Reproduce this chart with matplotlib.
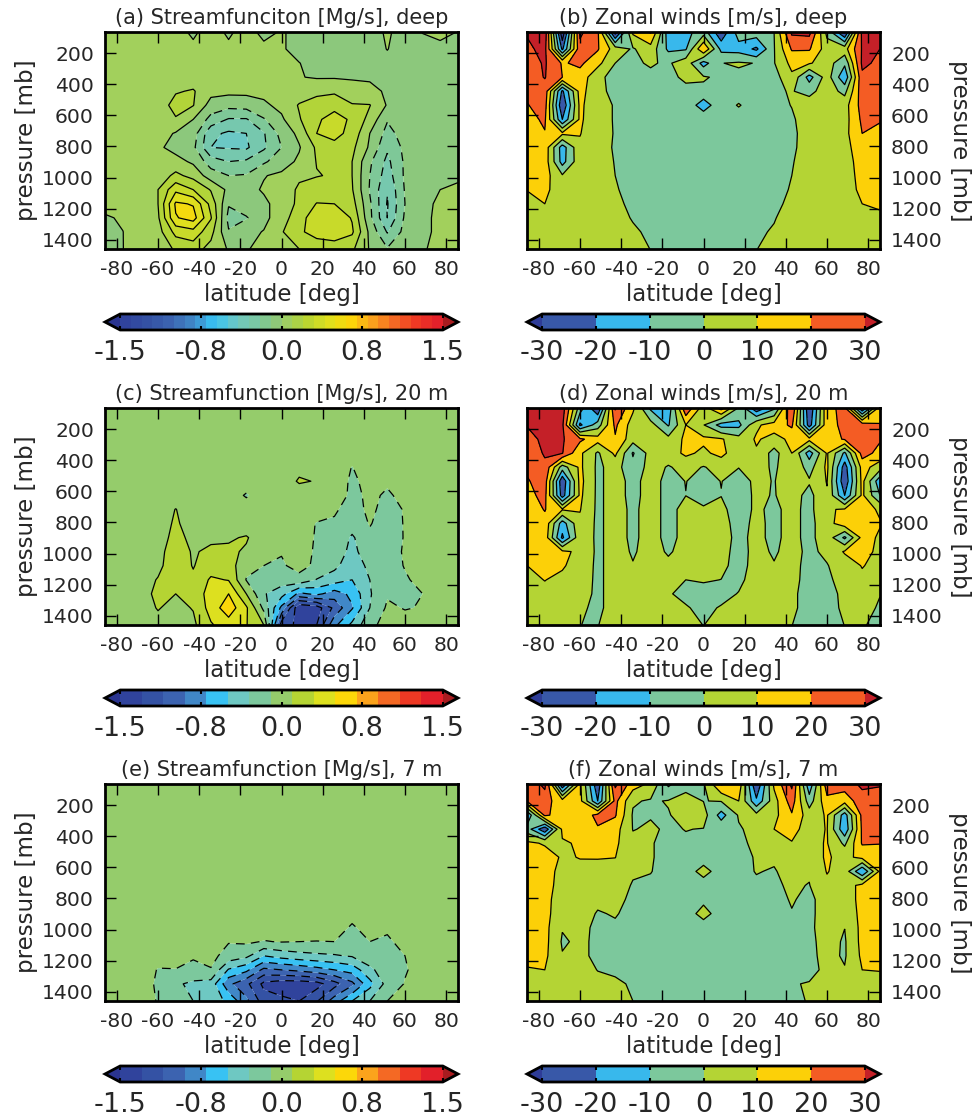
import numpy as np
import matplotlib
matplotlib.use('Agg')
import matplotlib.pyplot as plt
from matplotlib.cm import ScalarMappable
from matplotlib.colors import LinearSegmentedColormap, ListedColormap, BoundaryNorm, Normalize

plt.rcParams['axes.unicode_minus'] = False
plt.rcParams['text.color'] = '#262626'
plt.rcParams['axes.labelcolor'] = '#262626'
plt.rcParams['xtick.labelcolor'] = '#262626'
plt.rcParams['ytick.labelcolor'] = '#262626'
plt.rcParams['contour.negative_linestyle'] = (0, (7, 5))

lat = [-85.7, -77.1, -68.6, -60, -51.4, -42.9, -34.3, -25.7, -17.1, -8.6, 0,
       8.6, 17.1, 25.7, 34.3, 42.9, 51.4, 60, 68.6, 77.1, 85.7]
pres = [65, 174, 265, 355, 445, 535, 626, 716, 806, 897, 987, 1077, 1168, 1258, 1348, 1458]

psi_deep = [
    [.04, .04, .04, .04, .04, -.02, .05, -.02, .05, -.035, .01, -.03, -.03, -.03, -.03, -.03, .01, -.03, .002, .02, -.002],
    [.05, .05, .05, .05, .05, .025, .05, .025, .05, .03, .01, -.03, -.03, -.03, -.03, -.03, .002, -.03, -.02, -.02, -.02],
    [.05, .05, .05, .05, .05, .05, .05, .05, .05, .05, .03, .002, -.03, -.03, -.03, -.03, -.02, -.02, -.02, -.02, -.02],
    [.05, .05, .05, .05, .06, .06, .05, .05, .05, .04, .03, .005, -.01, -.01, -.02, -.01, -.03, -.02, -.02, -.02, -.02],
    [.05, .05, .05, .05, .11, .13, .04, .03, .03, .03, .04, .05, .09, .1, .08, .02, -.01, -.02, -.02, -.02, -.02],
    [.05, .05, .05, .06, .16, .125, -.05, -.08, -.07, -.02, .03, .13, .17, .2, .125, .125, -.01, -.03, -.02, -.02, -.02],
    [.05, .05, .05, .05, .11, .0, -.16, -.25, -.25, -.13, -.02, .11, .22, .29, .22, .08, -.11, -.05, -.03, -.02, -.02],
    [.05, .05, .05, .05, -.01, -.06, -.33, -.38, -.36, -.25, -.08, .03, .24, .28, .2, .0, -.16, -.07, -.03, -.02, -.02],
    [.04, .04, .04, .02, -.04, -.09, -.36, -.37, -.38, -.26, -.12, -.01, .14, .2, .15, -.02, -.22, -.09, -.03, -.02, -.02],
    [.04, .04, .04, .04, .04, -.02, -.18, -.24, -.22, -.14, -.05, .02, .125, .13, .12, -.1, -.27, -.1, -.03, -.02, -.02],
    [.04, .04, .04, .05, .15, .08, -.06, -.12, -.11, -.005, .02, .1, .115, .13, .12, -.12, -.3, -.1, -.03, -.02, -.01],
    [.04, .04, .04, .12, .33, .24, .11, -.03, -.03, .01, .05, .14, .17, .18, .13, -.13, -.35, -.11, -.03, .0, .01],
    [.03, .03, .05, .12, .5, .47, .2, -.11, -.05, -.02, .04, .15, .245, .24, .17, -.1, -.37, -.12, -.03, .02, .02],
    [-.01, .01, .05, .1, .47, .53, .25, -.16, -.13, -.03, .06, .2, .3, .33, .23, -.09, -.36, -.1, -.02, .02, .03],
    [-.03, -.001, .04, .07, .28, .32, .16, -.11, -.03, .005, .11, .21, .31, .34, .26, -.03, -.25, -.08, -.02, .02, .03],
    [-.03, -.001, .03, .03, .14, .17, .08, -.01, -.005, .02, .07, .12, .13, .15, .14, -.01, -.11, -.03, -.01, .03, .03],
]

wind_deep = [
    [31, 36, -38, 32, 22, -35, 12, 21, -15, -13, -5, -28, -5, -4, 0, 32, 33, -3, -32, 33, 33],
    [28, 33, -22, 27, 21, 5, -1, 6, -12, -11, 20, -13, -14, -22, -.5, 21, 21, 5, 6, 31, 30],
    [26, 31, 19, 22, 13, 0, -1.5, 1, -1.5, 6, -14, -.2, 1, -.3, -.5, 13, 11, 5, -8, 32, 28],
    [25, 30.5, 20, 16, 2.5, -3.5, -2, -2, -2, 1.5, 1, -2, -2, -2, -4, 8, -14, 5, -18, 28, 27],
    [22, 26, -22, 14, 2, -2, -2, -2, -2, -2, -2, -2, -2, -2, -1, .5, -3, 5, -3, 26, 25],
    [19.5, 24, -29, 12.5, 1.5, -.3, -2, -2, -2, -2, -16, -2, .3, -2, -1, .1, 5, 6, 6, 24, 24],
    [17, 21.5, -20, 12, 1.5, -.3, -2, -2, -2, -2, -2, -2, -2, -2, -2, -.4, 1.5, 5, 6, 22, 21],
    [15, 19.5, 12, 10.5, 2, -.3, -2, -2, -2, -2, -2, -2, -2, -2, -2, -.7, 1.5, 5, 7, 20, 17],
    [14, 16, -15, 8, 2, -.5, -2, -2, -2, -2, -2, -2, -2, -2, -2, -.8, 2, 5, 6, 17, 16],
    [13.5, 15.5, -14, 7, 2, -.2, -2, -2, -2, -2, -2, -2, -2, -2, -2, -.3, 2, 5, 5, 15, 16],
    [13, 14, 1, 6, 2.5, 0, -1, -2, -2, -2, -2, -2, -2, -2, -2, 0, 2.5, 4.5, 4.5, 14, 15],
    [10.2, 12, 5, 5, 2.5, .4, -1.5, -2, -2, -2, -2, -2, -2, -2, -.8, .2, 3, 4, 4, 13, 14],
    [8, 10, 5, 4.5, 3, 1, -1, -2, -2, -2, -2, -2, -2, -2, -.6, .6, 3, 3.5, 3.5, 10, 10.8],
    [6, 7, 5, 4, 3, 2, -.4, -2, -2, -2, -2, -2, -2, -2, -.2, 1.4, 3, 3, 3, 8, 9],
    [5, 5.5, 4.5, 4, 3, 2.5, .8, -1, -2, -2, -2, -2, -2, -.5, .3, 2, 3, 3, 3, 6, 7],
    [4, 4.5, 4, 3.5, 3, 2.5, 2, -.1, -1, -1.5, -1.5, -1.5, -1, -.1, 1.5, 2, 3, 3, 2, 4, 5],
]

psi_20m = [
    [0] * 21,
    [0] * 21,
    [0] * 21,
    [0, 0, 0, 0, 0, 0, 0, 0, 0, 0, 0, 0, 0, 0, -.02, 0, 0, 0, 0, 0, 0],
    [0, 0, 0, 0, 0, 0, 0, 0, 0, 0, 0, .05, 0, 0, -.105, 0, 0, 0, 0, 0, 0],
    [0, 0, 0, 0, 0, 0, 0, 0, 0, 0, 0, .12, .09, 0, -.13, -.05, -.08, 0, 0, 0, 0],
    [0, 0, 0, 0, 0, 0, 0, 0, -.12, 0, 0, 0, 0, 0, -.14, -.07, -.12, -.06, 0, 0, 0],
    [0, 0, 0, 0, .105, 0, 0, 0, 0, 0, 0, 0, 0, -.08, -.16, -.07, -.15, -.09, -.02, 0, 0],
    [0, 0, 0, 0, .13, 0, 0, 0, 0, 0, 0, 0, -.11, -.12, -.2, -.09, -.17, -.09, 0, 0, 0],
    [0, 0, 0, 0, .17, .04, .06, .08, .115, 0, 0, 0, -.12, -.13, -.33, -.13, -.18, -.09, 0, 0, 0],
    [0, 0, 0, .04, .2, .08, .14, .13, .08, -.02, -.09, -.01, -.13, -.18, -.36, -.18, -.18, -.08, -.02, 0, 0],
    [0, 0, 0, .06, .2, .09, .2, .2, -.05, -.1, -.12, -.05, -.13, -.25, -.42, -.25, -.18, -.09, -.03, 0, 0],
    [0, 0, .03, .11, .18, .13, .33, .29, -.11, -.13, -.2, -.15, -.31, -.4, -.5, -.3, -.18, -.12, -.05, 0, 0],
    [0, 0, .05, .13, .1, .15, .4, .5, .1, -.28, -.42, -.75, -.65, -.8, -.65, -.32, -.12, -.15, -.1, 0, 0],
    [0, 0, .03, .11, .05, .11, .38, .62, .33, -.15, -.75, -1.47, -1.4, -1.05, -.72, -.3, -.07, -.11, -.09, 0, 0],
    [0, 0, 0, .05, .01, .06, .28, .4, .31, .1, -1.2, -1.35, -1.3, -.75, -.45, -.15, -.03, -.03, 0, 0, 0],
]

wind_20m = [
    [33, 34, 35, -5, -30, 31, 12, -12, -17, 28, 5, 24, -1, -28, -12, 30, -30, 18, 22, -30, 15],
    [30.5, 33, 32, -22, -5, 22, 5, 4, -11, 10, .5, -14, -13, 8.5, 14, 22, -25, 17, 22, 26, 20.5],
    [27, 32, 31, 22, 14, 19, 4, 5, 3, 12, 12, 11, 4, 11, 7, 12, 13, 15, 21, 25, 21],
    [24, 31, 30.5, 12, -1.5, 12, -11, 4, 5, 12, 8, 13, 3, 9, -4, 10, -15, 11, -12, 24, 17],
    [22, 28, -5, 12, -2, 4, -7, 4, -.8, 3, -.5, 3, .2, 5, -2, 8, -4, 12, -25, 14, 5],
    [19, 25, -28, 13, -2, 4, -3, 4, -3, .2, -3, .2, -3, 1.5, -.3, 4, 1, 10.5, -28, 13, -17],
    [17, 23, -25, 12, -2, 4, -3, 4, -3, -.1, -3, -.2, -4, 1.5, -.5, 4, -3, 9, -20, 12, -10],
    [15, 20.5, 11, 10.5, -2, 4, -2, 4, -3, 3, 1, 2, -4, 1.5, -2, 3, -3, 9, 11, 13, 9],
    [14, 17, -15, 8, -2, 4, -2, 4, -3, 3, 3, 3, -3, 2, -2, 3, -3, 6, 16, 14, 10.5],
    [13, 16, -22, 7, -2, 4, -2, 4, -3, 3, 3, 3, -2, 2, -2, 3, -3, 6, -12, 13, 9],
    [12, 15, 12, 8, -2, 4, -1, 3.5, -1, 3, 3, 3, -3, 2.5, -1, 3, -2, 2, 11, 13, 8],
    [10, 14, 11, 6, -2, 4, .5, 3.5, 2, 3, 3, 2, -3, 3, .5, 3, -3, -.5, 5, 10.5, 7],
    [8, 10.2, 8, 5, -2, 4, 3, 3, 2, 0, .8, -.1, -1.5, 3, 2, 2.5, -3, -1.5, 3, 8, 6],
    [6, 8, 6, 4, -2, 4, 3, 3, .5, -1.5, -3, -2, .3, 3, 3, 1.5, -3, -1.5, 1, 5, .3],
    [5, 6, 5, 1.5, -2, 4, 3, 3, 2, .5, -1.5, .5, 2, 3, 3, 1, -2, -2, 1, 3, -1],
    [5, 5, 4, .02, -.2, 3, 3, 3, 3, 2, -.1, 2, 3, 3, 3, .1, -3, -2.5, .1, .5, -1.5],
]

psi_7m = [
    [0] * 21,
    [0] * 21,
    [0] * 21,
    [0] * 21,
    [0] * 21,
    [0] * 21,
    [0] * 21,
    [0] * 21,
    [0] * 21,
    [0, 0, 0, 0, 0, 0, 0, 0, 0, 0, 0, 0, 0, 0, -.05, 0, 0, 0, 0, 0, 0],
    [0, 0, 0, 0, 0, 0, 0, 0, 0, 0, 0, 0, 0, -.03, -.12, -.04, -.07, 0, 0, 0, 0],
    [0, 0, 0, 0, 0, 0, 0, -.09, -.07, -.11, -.09, -.1, -.105, -.1, -.13, -.1, -.13, -.04, 0, 0, 0],
    [0, 0, 0, -.03, -.04, -.08, -.05, -.17, -.25, -.5, -.42, -.37, -.34, -.32, -.28, -.16, -.15, -.1, 0, 0, 0],
    [0, 0, 0, -.11, -.105, -.15, -.11, -.52, -.65, -.95, -.9, -.85, -.78, -.7, -.62, -.35, -.17, -.115, -.03, 0, 0],
    [0, 0, -.04, -.12, -.27, -.34, -.38, -.85, -1.05, -1.35, -1.42, -1.42, -1.38, -1.18, -.95, -.57, -.22, -.09, 0, 0, 0],
    [0, 0, -.03, -.11, -.2, -.3, -.38, -.55, -.85, -1.2, -1.25, -1.3, -1.12, -.8, -.5, -.3, -.1, -.01, 0, 0, 0],
]

wind_7m = [
    [22, 33, -30, 12, -28, 32, 15, 8, -12, -3, -1, 21, 17, -30, 12, 32, -18, 26, 25, 32, 31],
    [21, 24, 14, 13, -20, 23, 1, -1, .5, 3, -.2, .5, 10, -18, 6, 25, -5, 17, 14, 26, 25],
    [-20, 22, 15, 13, 23, 21, -1, -.5, -.5, 3, 4, -14, 1, 3, 7, 19, 5, 11, -15, 23, 24],
    [-5, -28, 12, 14, 19, 14, -.3, 1, -1, .2, -.3, -3, -1, 3, 10, 13, 6, 10.5, -18, 22, 23],
    [12, 9, 9, 11, 12, 12, 2, .5, -2, -1, -1.5, -1.5, -1.5, 1.5, 5, 9.5, 8, 10.5, -2, 21, 20.5],
    [14, 14, 9, 10.3, 10.5, 10.2, 2, .5, -2, -2, -2, -2, -2, .5, 1, 4, 6, 11, 7, 13, 13],
    [14, 14, 7, 8, 7, 6, .8, .2, -2, -2, 1.5, -2, -2, .3, -.5, 2.5, 1, 10.5, 6, -20, 12],
    [14, 14, 6, 5, 4, 3, -.5, -1, -2, -2, -2, -2, -2, -1, -1, 1, -.3, 8, 5, 13, 14],
    [14, 13, 5, 4, 1.5, 2, -1.5, -2, -2, -2, -1, -2, -2, -2, -2, .5, -1.5, 3, 5, 13, 14],
    [14, 13, 4, 3, -.5, .5, -2, -2, -2, -2, 1.5, -2, -2, -2, -2, -.3, -1.5, 3, 3, 13, 14],
    [14, 13, .5, 1.3, -1, -1, -2, -2, -2, -2, -2, -2, -2, -2, -2, -2, -1.5, 3.5, .1, 13, 14],
    [14, 13, -1, 1.5, -1.5, -2, -2, -2, -2, -2, -2, -2, -2, -2, -2, -2, -2, 3.2, -1, 13, 14],
    [12, 12, .5, 1.5, -1.5, -2, -2, -2, -2, -2, -2, -2, -2, -2, -2, -2, -2, 2.5, -1, 12, 13],
    [9.5, 10, 4, 3, -.2, -1.5, -2, -2, -2, -2, -2, -2, -2, -2, -2, -2, -2.5, 2, .5, 10, 10.5],
    [6, 6, 5, 4, 2, 1.5, -1, -2, -2, -2, -2, -2, -2, -2, -2, -.5, .5, 3, 3, 6, 6],
    [5, 5, 5, 4, 3, 2, 0, -1, -2, -2, -2, -2, -2, -2, -1, -2, .6, 3, 4, 5, 5],
]

psi_stops = [-1.5, -1.4, -1.2, -1.0, -0.8, -0.6, -0.4, -0.2, -0.05, 0, 0.05, 0.2, 0.4, 0.6, 0.8, 1.0, 1.2, 1.4, 1.5]
psi_colors = ['#2c3a94', '#30449c', '#3452a4', '#3c64b0', '#4088c8', '#38c4f4', '#70c8c0', '#7cc89c',
              '#8ec878', '#94cc6c', '#a0d060', '#b4d434', '#dce020', '#fcd808', '#fba51c', '#f46a24',
              '#ee3a24', '#e4202a', '#c02026']
wind_colors = ['#3858a8', '#38b8ec', '#7cc89c', '#b4d434', '#fcd008', '#f45c24']

psi_cmap = LinearSegmentedColormap.from_list(
    'psi', [((s + 1.5) / 3.0, c) for s, c in zip(psi_stops, psi_colors)])
psi_cmap.set_under('#2a3490')
psi_cmap.set_over('#a81c20')
wind_cmap = ListedColormap(wind_colors)
wind_cmap.set_under('#2e3c98')
wind_cmap.set_over('#c42028')

psi_bar_fine = np.round(np.arange(-1.5, 1.51, 0.1), 1)
psi_coarse = np.round(np.arange(-1.5, 1.51, 0.2), 1)
# panel (a) rings change colour about every 0.12, its bar is cut every 0.1
psi_rings = np.round(np.arange(-0.48, 0.49, 0.12), 2)
psi_fill_deep = np.concatenate(([-1.5, -1.0, -0.6], psi_rings, [0.6, 1.0, 1.5]))
wind_levels = [-30, -20, -10, 0, 10, 20, 30]
psi_ticks = [-1.5, -0.75, 0.0, 0.75, 1.5]

W, H = 974, 1119
tops = [32, 408, 784]
bottoms = [249, 625, 1001]
cb_tops = [314, 690, 1066]
cb_bottoms = [330, 706, 1082]
lefts = [105, 527]
width = 353


def fig_rect(x0, y0, x1, y1):
    return [x0 / W, 1 - y1 / H, (x1 - x0) / W, (y1 - y0) / H]


def style_axes(ax, right):
    for s in ax.spines.values():
        s.set_linewidth(2)
    ax.set_xlim(-85.76, 85.76)
    ax.set_ylim(1458, 65)
    ax.set_xticks(range(-80, 81, 20))
    ax.set_yticks(range(200, 1401, 200))
    ax.tick_params(direction='in', top=True, bottom=True, left=True, right=True,
                   length=8, width=1, labelsize=14.6)
    ax.tick_params(axis='x', pad=8)
    ax.tick_params(axis='y', pad=8)
    ax.set_xlabel('latitude [deg]', fontsize=16.5, labelpad=3)
    if right:
        ax.yaxis.tick_right()
        ax.yaxis.set_ticks_position('both')
        ax.tick_params(axis='y', labelleft=False, labelright=True)
        ax.yaxis.set_label_position('right')
        ax.set_ylabel('pressure [mb]', fontsize=16.5, rotation=270, labelpad=20)
    else:
        ax.set_ylabel('pressure [mb]', fontsize=16.5, labelpad=3)


def add_colorbar(fig, mappable, row, col, ticks, labels):
    cax = fig.add_axes(fig_rect(lefts[col], cb_tops[row], lefts[col] + width, cb_bottoms[row]))
    cb = fig.colorbar(mappable, cax=cax, orientation='horizontal', extend='both',
                      extendfrac=0.047, ticks=ticks)
    cb.ax.set_xticklabels(labels)
    cb.ax.tick_params(direction='in', length=3, width=1.5, top=True, bottom=True, labelsize=19.5, pad=7)
    cb.outline.set_linewidth(2)
    cb.minorticks_off()


fig = plt.figure(figsize=(W / 100, H / 100), dpi=100)

psi_panels = [
    (psi_deep, '(a) Streamfunciton [Mg/s], deep', psi_fill_deep, psi_rings),
    (psi_20m, '(c) Streamfunction [Mg/s], 20 m', psi_coarse, psi_coarse),
    (psi_7m, '(e) Streamfunction [Mg/s], 7 m', psi_coarse, psi_coarse),
]
wind_panels = [
    (wind_deep, '(b) Zonal winds [m/s], deep'),
    (wind_20m, '(d) Zonal winds [m/s], 20 m'),
    (wind_7m, '(f) Zonal winds [m/s], 7 m'),
]

for row, (vals, title, fill, lines) in enumerate(psi_panels):
    ax = fig.add_axes(fig_rect(lefts[0], tops[row], lefts[0] + width, bottoms[row]))
    z = np.array(vals, dtype=float)
    cf = ax.contourf(lat, pres, z, levels=fill, cmap=psi_cmap,
                     norm=Normalize(-1.5, 1.5), extend='both', antialiased=True)
    ax.contour(lat, pres, z, levels=lines, colors='k', linewidths=0.9)
    ax.set_title(title, fontsize=15, pad=6)
    style_axes(ax, False)
    if row == 0:
        bar = ScalarMappable(norm=BoundaryNorm(psi_bar_fine, psi_cmap.N, extend='both'), cmap=psi_cmap)
    else:
        bar = cf
    add_colorbar(fig, bar, row, 0, psi_ticks, ['-1.5', '-0.8', '0.0', '0.8', '1.5'])

for row, (vals, title) in enumerate(wind_panels):
    ax = fig.add_axes(fig_rect(lefts[1], tops[row], lefts[1] + width, bottoms[row]))
    z = np.array(vals, dtype=float)
    cf = ax.contourf(lat, pres, z, levels=wind_levels, cmap=wind_cmap,
                     norm=BoundaryNorm(wind_levels, 6), extend='both')
    ax.contour(lat, pres, z, levels=wind_levels, colors='k', linewidths=0.9, linestyles='solid')
    ax.set_title(title, fontsize=15, pad=6)
    style_axes(ax, True)
    add_colorbar(fig, cf, row, 1, wind_levels, [str(v) for v in wind_levels])

fig.savefig('out.png', dpi=100)
